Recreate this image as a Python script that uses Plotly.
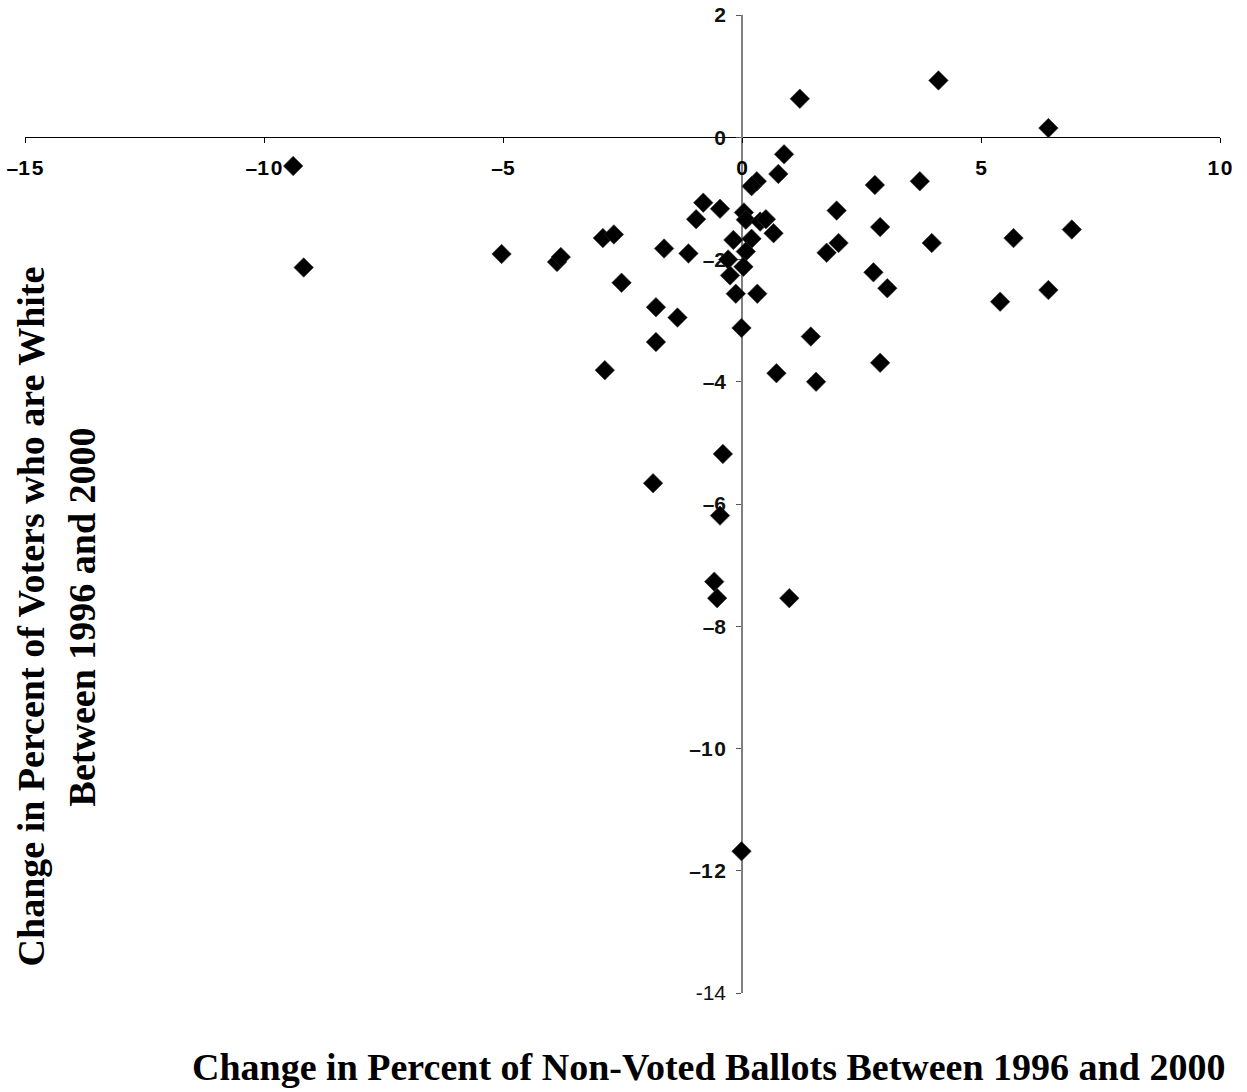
import plotly.graph_objects as go

# Change in percent of non-voted ballots, 1996 -> 2000 (x)
nonvoted_change = [
    -9.39, -9.17, -5.03, -3.87, -3.79, -2.91, -2.68, -2.52, -2.87, -1.80,
    -1.80, -1.35, -1.63, -1.12, -0.81, -0.96, -0.46, 0.04, 0.08, 0.38,
    0.50, 0.66, -0.18, 0.20, 0.08, -0.29, 0.03, -0.25, -0.13, 0.32,
    -0.01, 0.31, 0.20, 0.76, 0.88, 1.21, 4.11, 6.41, 1.98, 1.77,
    2.02, 2.78, 3.72, 2.89, 3.97, 2.75, 3.04, 5.68, 6.90, 5.40,
    6.41, 1.44, 2.89, 1.55, 0.72, -0.40, -1.86, -0.46, -0.58, -0.52,
    0.99, -0.01,
]

# Change in percent of voters who are white, 1996 -> 2000 (y)
white_change = [
    -0.47, -2.13, -1.91, -2.04, -1.96, -1.65, -1.59, -2.38, -3.81, -2.78,
    -3.35, -2.95, -1.82, -1.90, -1.07, -1.34, -1.17, -1.23, -1.35, -1.38,
    -1.34, -1.57, -1.68, -1.66, -1.87, -2.00, -2.12, -2.26, -2.56, -2.56,
    -3.12, -0.72, -0.80, -0.60, -0.28, 0.63, 0.93, 0.15, -1.20, -1.89,
    -1.73, -0.78, -0.72, -1.47, -1.73, -2.21, -2.47, -1.65, -1.51, -2.69,
    -2.50, -3.26, -3.69, -4.00, -3.86, -5.18, -5.66, -6.19, -7.27, -7.54,
    -7.54, -11.68,
]

x_ticks = [-15, -10, -5, 0, 5, 10]
x_tick_labels = ["–1\u200a5", "–1\u200a0", "–5", "0", "5", "1\u200a0"]
y_ticks = [2, 0, -2, -4, -6, -8, -10, -12, -14]
y_tick_labels = ["<b>2</b>", "<b>0</b>", "<b>–2</b>", "<b>–4</b>", "<b>–6</b>",
                 "<b>–8</b>", "<b>–1\u200a0</b>", "<b>–1\u200a2</b>", "-14"]

x_title = "Change in Percent of Non-Voted Ballots Between 1996 and 2000"
y_title_lines = ["Change in Percent of Voters who are White", "Between 1996 and 2000"]

fig = go.Figure()
fig.add_trace(go.Scatter(
    x=nonvoted_change, y=white_change, mode="markers",
    marker=dict(symbol="diamond", size=15, color="black",
                line=dict(width=0.6, color="#333")),
    showlegend=False, hoverinfo="x+y",
))

W, H = 1247, 1092
ml, mr, mt, mb = 25.3, 27, 15.3, 98.7
plot_w = W - ml - mr
plot_h = H - mt - mb

tick_font = dict(family="Liberation Sans, Arial, sans-serif", size=21, color="black")

fig.update_layout(
    width=W, height=H,
    margin=dict(l=ml, r=mr, t=mt, b=mb, pad=0, autoexpand=False),
    paper_bgcolor="white", plot_bgcolor="white",
    xaxis=dict(
        range=[-15, 10], tickvals=x_ticks, ticktext=x_tick_labels,
        anchor="free", position=14 / 16, automargin=False,
        showline=True, linecolor="black", linewidth=1,
        ticks="outside", ticklen=5, tickcolor="black", tickwidth=1,
        showgrid=False, zeroline=False, layer="below traces",
        tickfont=dict(tick_font, weight="bold"), ticklabelstandoff=7,
    ),
    yaxis=dict(
        range=[-14, 2], tickvals=y_ticks, ticktext=y_tick_labels,
        anchor="free", position=15 / 25, automargin=False,
        showline=True, linecolor="#808080", linewidth=1.5,
        ticks="outside", ticklen=5, tickcolor="#555", tickwidth=1,
        showgrid=False, zeroline=False, layer="below traces",
        tickfont=dict(tick_font, color="#111"), ticklabelstandoff=6,
    ),
)

title_font = dict(family="Liberation Serif, Times New Roman, serif", size=38,
                  color="black", weight="bold")


def px_x(p):
    return (p - ml) / plot_w


def px_y(p):
    return (H - mb - p) / plot_h


fig.add_annotation(text=x_title, xref="paper", yref="paper",
                   x=px_x(709), y=px_y(1067), showarrow=False,
                   xanchor="center", yanchor="middle", font=title_font)
for line, cx in zip(y_title_lines, [31, 82]):
    fig.add_annotation(text=line, xref="paper", yref="paper",
                       x=px_x(cx), y=px_y(617), showarrow=False, textangle=-90,
                       xanchor="center", yanchor="middle", font=title_font)

fig.write_html("out.html")
